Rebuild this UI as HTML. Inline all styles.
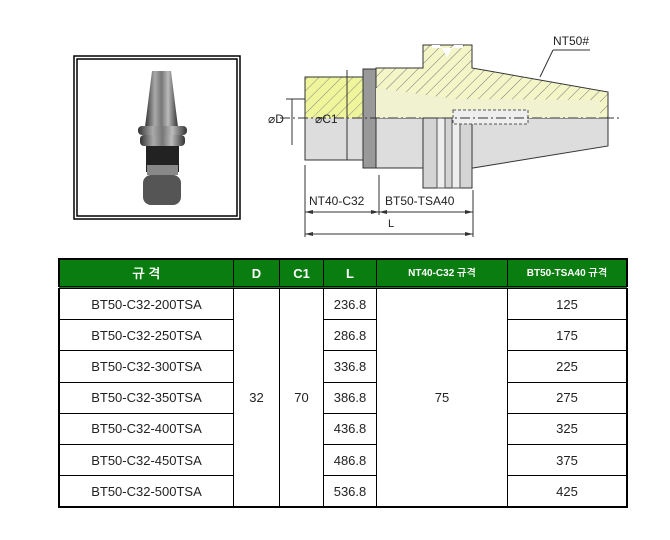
<!DOCTYPE html>
<html><head><meta charset="utf-8"><style>
body{margin:0;background:#fff;width:670px;height:540px;position:relative;overflow:hidden;font-family:"Liberation Sans","NanumGothic",sans-serif}
table{position:absolute;left:58px;top:258px;border-collapse:collapse;border:2px solid #000}
td{border:1px solid #000;text-align:center;font-size:13px;color:#222;padding:0;height:30.2px}
th{background:#0a7d10;color:#fff;font-weight:bold;font-size:13px;height:26px;border:1px solid #000;border-bottom:3px double #000;padding:0}
th.s{font-size:10px}
</style></head><body>
<svg width="670" height="258" style="position:absolute;left:0;top:0" font-family="Liberation Sans, sans-serif">
<defs>
<pattern id="h" width="8" height="8" patternUnits="userSpaceOnUse" patternTransform="rotate(45)"><rect width="8" height="8" fill="#f4f6c8"/><line x1="0" y1="0" x2="0" y2="8" stroke="#777" stroke-width="1"/></pattern>
<pattern id="hy" width="8" height="8" patternUnits="userSpaceOnUse" patternTransform="rotate(45)"><rect width="8" height="8" fill="#eef59a"/><line x1="0" y1="0" x2="0" y2="8" stroke="#888" stroke-width="1"/></pattern>
<linearGradient id="g" x1="0" x2="1"><stop offset="0" stop-color="#333"/><stop offset=".3" stop-color="#aaa"/><stop offset=".5" stop-color="#777"/><stop offset=".7" stop-color="#bbb"/><stop offset="1" stop-color="#333"/></linearGradient>
</defs>
<rect x="74" y="56" width="166" height="163" fill="none" stroke="#000" stroke-width="1.5"/>
<rect x="77" y="59" width="160" height="157" fill="none" stroke="#000" stroke-width="1.5"/>
<polygon points="152,71 171,71 178,127 145,127" fill="url(#g)"/>
<rect x="138" y="126" width="49" height="9" rx="4" fill="url(#g)"/>
<rect x="140" y="135" width="45" height="11" rx="4" fill="url(#g)"/>
<rect x="146" y="146" width="33" height="26" fill="#222"/>
<rect x="147" y="165" width="31" height="10" fill="#888"/>
<rect x="143" y="175" width="38" height="30" rx="8" fill="#555"/>
<rect x="305" y="77" width="58" height="41" fill="url(#hy)"/>
<rect x="305" y="118" width="58" height="42" fill="#ddd"/>
<rect x="305" y="77" width="58" height="83" fill="none" stroke="#333"/>
<rect x="363" y="69" width="13" height="99" fill="#999" stroke="#333"/>
<polygon points="376,68 423,68 423,45 472,45 472,68 608,92 608,118 376,118" fill="url(#h)" stroke="#333"/>
<polygon points="376,118 608,118 608,146 473,168 376,168" fill="#ddd" stroke="#333"/>
<polygon points="376,88 455,99 600,100 600,118 376,118" fill="#f0f2d0"/>
<rect x="423" y="118" width="49" height="70" fill="#d4d4d4" stroke="#333"/>
<rect x="437" y="118" width="8" height="70" fill="#eee" stroke="#555"/>
<rect x="452" y="118" width="8" height="70" fill="#eee" stroke="#555"/>
<polygon points="432,45 440,45 447,57 454,45 463,45 463,48 432,48" fill="#fff"/>
<rect x="453" y="110" width="75" height="14" fill="#eee" stroke="#555" stroke-dasharray="3,2"/>
<line x1="280" y1="118" x2="620" y2="118" stroke="#333" stroke-dasharray="10,3,2,3"/>
<line x1="292" y1="99" x2="292" y2="145" stroke="#333"/>
<line x1="286" y1="99" x2="305" y2="99" stroke="#333"/>
<line x1="347" y1="70" x2="347" y2="160" stroke="#333"/>
<text x="268" y="123" font-size="12" fill="#222">⌀D</text>
<text x="315" y="123" font-size="12" fill="#222">⌀C1</text>
<g stroke="#333">
<line x1="305" y1="165" x2="305" y2="237"/>
<line x1="379" y1="175" x2="379" y2="215"/>
<line x1="473" y1="190" x2="473" y2="237"/>
<line x1="305" y1="212" x2="379" y2="212"/>
<line x1="379" y1="212" x2="473" y2="212"/>
<line x1="305" y1="234" x2="473" y2="234"/>
<line x1="590" y1="50" x2="553" y2="50"/><line x1="553" y1="50" x2="540" y2="77"/>
</g>
<g fill="#333">
<polygon points="305,212 313,210 313,214"/><polygon points="379,212 371,210 371,214"/>
<polygon points="379,212 387,210 387,214"/><polygon points="473,212 465,210 465,214"/>
<polygon points="305,234 313,232 313,236"/><polygon points="473,234 465,232 465,236"/>
</g>
<text x="309" y="205" font-size="12" fill="#222">NT40-C32</text>
<text x="385" y="205" font-size="12" fill="#222">BT50-TSA40</text>
<text x="388" y="227" font-size="11" fill="#222">L</text>
<text x="553" y="45" font-size="12" fill="#222">NT50#</text>
</svg>
<table>
<tr><th style="width:173px">규 격</th><th style="width:45px">D</th><th style="width:43px">C1</th><th style="width:52px">L</th><th class="s" style="width:130px">NT40-C32 규격</th><th class="s" style="width:118px">BT50-TSA40 규격</th></tr>
<tr><td>BT50-C32-200TSA</td><td rowspan="7">32</td><td rowspan="7">70</td><td>236.8</td><td rowspan="7">75</td><td>125</td></tr>
<tr><td>BT50-C32-250TSA</td><td>286.8</td><td>175</td></tr>
<tr><td>BT50-C32-300TSA</td><td>336.8</td><td>225</td></tr>
<tr><td>BT50-C32-350TSA</td><td>386.8</td><td>275</td></tr>
<tr><td>BT50-C32-400TSA</td><td>436.8</td><td>325</td></tr>
<tr><td>BT50-C32-450TSA</td><td>486.8</td><td>375</td></tr>
<tr><td>BT50-C32-500TSA</td><td>536.8</td><td>425</td></tr>
</table>
</body></html>
